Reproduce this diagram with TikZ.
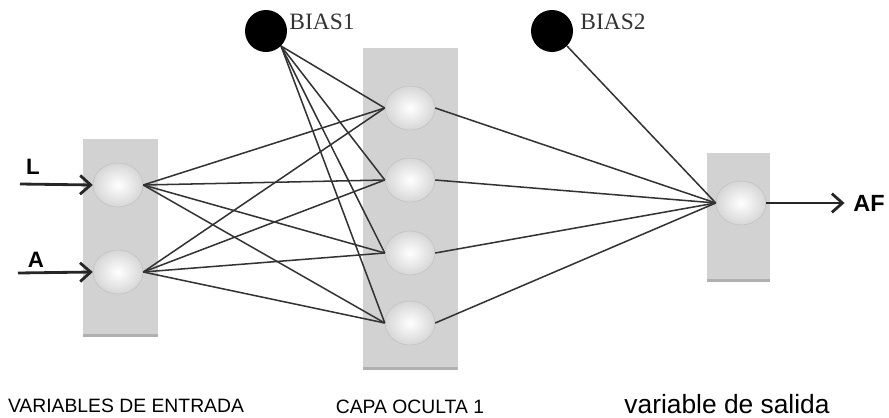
\documentclass[tikz,border=0pt]{standalone}
\usepackage{fontspec}
\setmainfont{Liberation Serif}
\setsansfont{Liberation Sans}
\usepackage{tikz}
\usetikzlibrary{shapes.geometric,arrows.meta,positioning}

\begin{document}
\begin{tikzpicture}[
  x=0.03cm, y=-0.03cm,
  layer/.style  = {rectangle, fill=gray!35, inner sep=0pt,
                   path picture={\fill[gray!62] (path picture bounding box.south west)
                     rectangle ([yshift=2.5pt]path picture bounding box.south east);}},
  neuron/.style = {ellipse, minimum width=1.5cm, minimum height=1.32cm, inner sep=0pt,
                   inner color=white, outer color=gray!32, draw=gray!50, thin},
  bias/.style   = {circle, fill=black, minimum size=1.26cm, inner sep=0pt},
  biaslbl/.style= {font=\fontsize{20}{22}\selectfont, text=black!80},
  caption/.style= {font=\sffamily\fontsize{16.5}{18}\selectfont},
  conn/.style   = {line width=1.3pt, black!80},
  arr/.style    = {-{Straight Barb[length=9pt,width=16pt,line width=2.4pt]}, line width=2.4pt, black!85}
]
\useasboundingbox (0,0) rectangle (889,418);

% layers
\node[layer, minimum width=2.25cm, minimum height=5.91cm] (inbox)  at (120.5,238) {};
\node[layer, minimum width=2.85cm, minimum height=9.66cm] (hidbox) at (410,209)   {};
\node[layer, minimum width=1.89cm, minimum height=3.87cm] (outbox) at (738.5,217.5) {};

% neurons
\node[neuron] (inL) at (118,185) {};
\node[neuron] (inA) at (118,272) {};
\node[neuron] (h1)  at (410,108) {};
\node[neuron] (h2)  at (410,180) {};
\node[neuron] (h3)  at (410,253) {};
\node[neuron] (h4)  at (410,323) {};
\node[neuron] (out) at (741,203) {};

% bias
\node[bias] (b1) at (266,31) {};
\node[bias] (b2) at (552,31) {};
\node[biaslbl] (b1lbl) at (322,22) {BIAS1};
\node[biaslbl] (b2lbl) at (613,22) {BIAS2};

% inputs / output
\coordinate (srcL) at (20,184);
\coordinate (srcA) at (18,273);
\node[font=\sffamily\bfseries\fontsize{19}{21}\selectfont] (lblL) at (33,167) {L};
\node[font=\sffamily\bfseries\fontsize{19}{21}\selectfont] (lblA) at (36,260) {A};
\node[font=\sffamily\bfseries\fontsize{20}{22}\selectfont] (af) at (869,203) {AF};

\draw[arr] (srcL) -- (inL.west);
\draw[arr] (srcA) -- (inA.west);
\draw[arr, shorten >=4pt] (out.east) -- (af.west);

% connections
\draw[conn] (inL.east) -- (h1.west);
\draw[conn] (inL.east) -- (h2.west);
\draw[conn] (inL.east) -- (h3.west);
\draw[conn] (inL.east) -- (h4.west);
\draw[conn] (inA.east) -- (h1.west);
\draw[conn] (inA.east) -- (h2.west);
\draw[conn] (inA.east) -- (h3.west);
\draw[conn] (inA.east) -- (h4.west);
\draw[conn] (b1.south east) -- (h1.west);
\draw[conn] (b1.south east) -- (h2.west);
\draw[conn] (b1.south east) -- (h3.west);
\draw[conn] (b1.south east) -- (h4.west);
\draw[conn] (h1.east) -- (out.west);
\draw[conn] (h2.east) -- (out.west);
\draw[conn] (h3.east) -- (out.west);
\draw[conn] (h4.east) -- (out.west);
\draw[conn] (b2.south east) -- (out.west);

% captions
\node[caption] (capin)  at (126,406) {VARIABLES DE ENTRADA};
\node[caption] (caphid) at (410,407) {CAPA OCULTA 1};
\node[font=\sffamily\fontsize{22.5}{24}\selectfont] (capout) at (727,404) {variable de salida};
\end{tikzpicture}
\end{document}
